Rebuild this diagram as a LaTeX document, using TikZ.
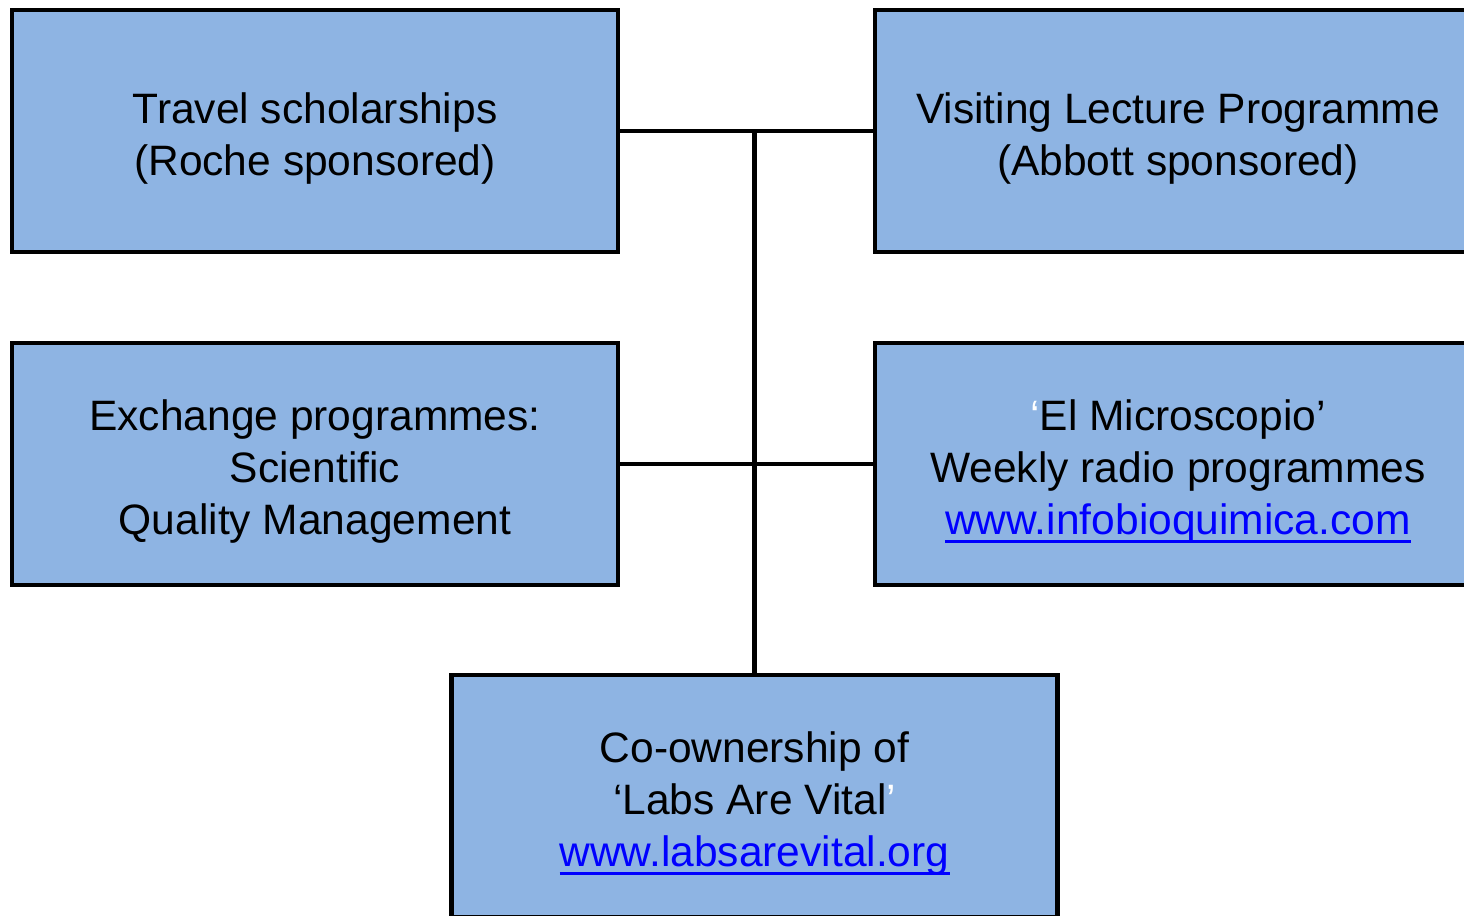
\documentclass[tikz,border=0pt]{standalone}
\usepackage{fontspec}
\setmainfont{Liberation Sans}
\definecolor{boxblue}{HTML}{8EB4E3}
\definecolor{linkblue}{HTML}{0000FF}
\newcommand{\weblink}[1]{{\color{linkblue}\setbox0\hbox{#1}\rlap{\rule[-2.4pt]{\wd0}{0.85pt}}\box0}}
\newcommand{\topgap}{\rule{0pt}{1.1em}}
\tikzset{
  box/.style={draw=black, line width=1.15pt, fill=boxblue, minimum width=6.06cm,
    minimum height=2.42cm, align=center, font=\fontsize{12.1}{14.8}\selectfont},
  wire/.style={line width=1.15pt}
}
\begin{document}
\begin{tikzpicture}
\useasboundingbox (0,0) rectangle (14.64,9.15);
\node [box] (travel) at (3.15,7.84) {\topgap Travel scholarships\\(Roche sponsored)};
\node [box] (visit) at (11.78,7.84) {\topgap Visiting Lecture Programme\\(Abbott sponsored)};
\node [box] (exchange) at (3.15,4.51) {\topgap Exchange programmes:\\Scientific\\Quality Management};
\node [box] (radio) at (11.78,4.51) {\topgap\textcolor{white}{‘}El Microscopio’\\Weekly radio programmes\\\weblink{www.infobioquimica.com}};
\node [box] (labs) at (7.545,1.19) {\topgap Co-ownership of\\‘Labs Are Vital\textcolor{white}{’}\\\weblink{www.labsarevital.org}};
% connectors
\draw [wire] (travel.east) -- (visit.west)
  (exchange.east) -- (radio.west)
  (travel.east -| labs.north) -- (labs.north);
\end{tikzpicture}
\end{document}
